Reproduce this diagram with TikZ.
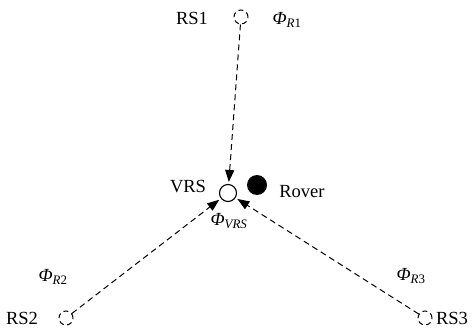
\documentclass[tikz,border=0pt]{standalone}
\usepackage{fontspec}
\setmainfont{Liberation Serif}
\usetikzlibrary{arrows.meta}
\newcommand{\phisub}[1]{\textit{Φ}\textsubscript{#1}}
\begin{document}
\begin{tikzpicture}[x=1pt,y=-1pt,
  lbl/.style={font=\fontsize{18.5}{20}\selectfont, inner sep=0pt},
  rs/.style={circle, draw, dash pattern=on 5pt off 3.5pt, line width=1pt, minimum size=14pt, inner sep=0pt},
  conn/.style={dash pattern=on 6pt off 4pt, line width=1pt, -{Triangle[length=12pt,width=9pt]}, shorten >=2pt}]
\useasboundingbox (0,0) rectangle (473,329);
\node[rs] (rs1) at (241,17) {};
\node[rs] (rs2) at (66,318) {};
\node[rs] (rs3) at (425,318) {};
\node[circle, draw, line width=1.1pt, minimum size=17pt, inner sep=0pt] (vrs) at (228,193) {};
\node[circle, fill, minimum size=20pt, inner sep=0pt] (rover) at (257,185) {};
\node[lbl] (trs1) at (192,18) {RS1};
\node[lbl] (trs2) at (22,318) {RS2};
\node[lbl] (trs3) at (452,318) {RS3};
\node[lbl] (tvrs) at (188,187) {VRS};
\node[lbl] (trover) at (302,192) {Rover};
\node[lbl] (p1) at (287,20) {\phisub{\textit{R}1}};
\node[lbl] (p2) at (53,277) {\phisub{\textit{R}2}};
\node[lbl] (p3) at (411,276) {\phisub{\textit{R}3}};
\node[lbl] (pv) at (229,221) {\phisub{\textit{VRS}}};
\draw[conn] (rs1) -- (vrs);
\draw[conn] (rs2) -- (vrs);
\draw[conn] (rs3) -- (vrs);
\end{tikzpicture}
\end{document}
